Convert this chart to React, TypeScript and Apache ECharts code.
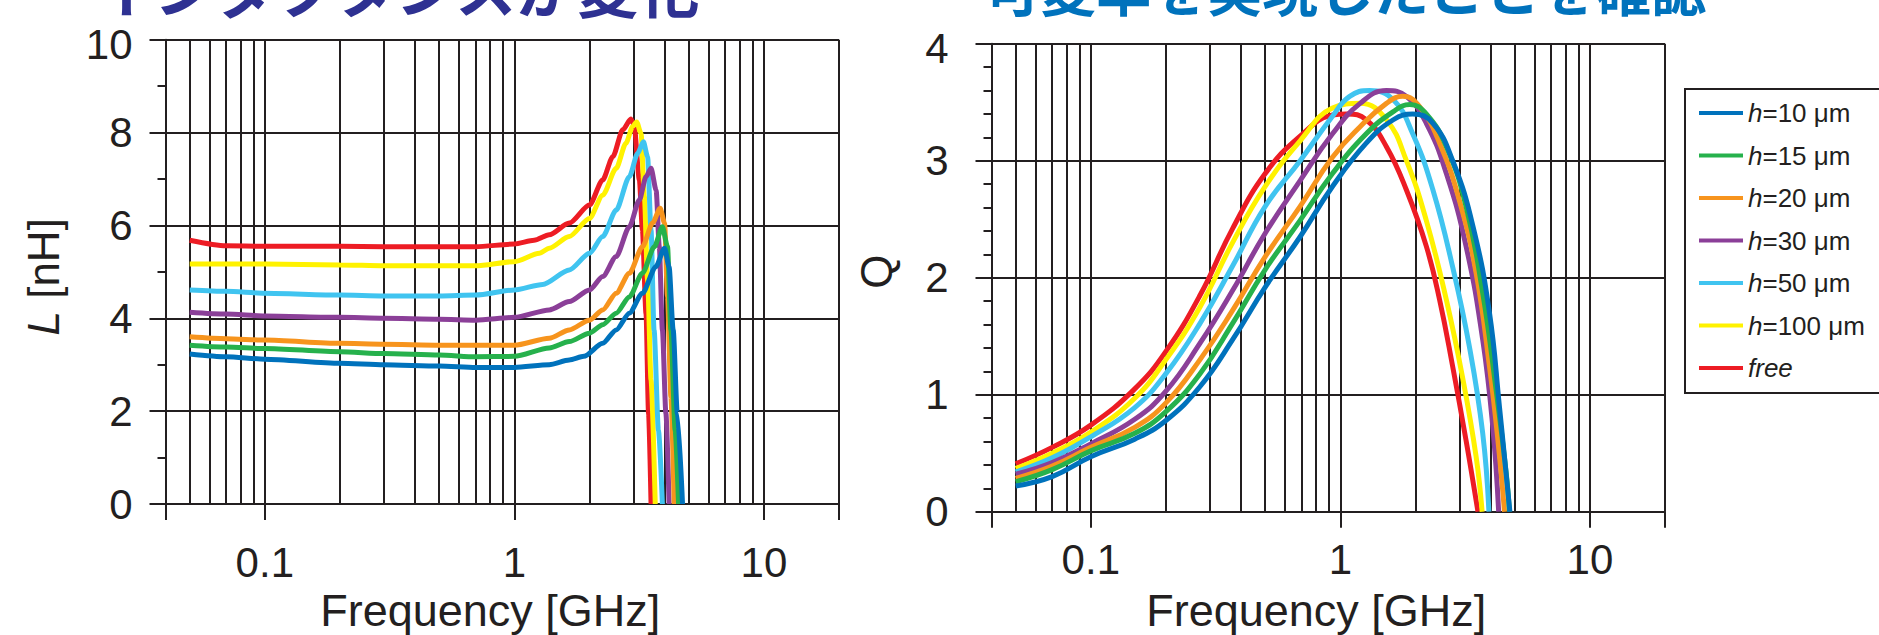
import React, { useEffect, useRef } from 'react';
import * as echarts from 'echarts';

// ---------- Inductance L [nH] vs frequency [GHz] ----------
const lFreeF = [0.05, 0.07, 0.1, 0.2, 0.3, 0.5, 0.7, 1.0, 1.2, 1.38, 1.66, 2.0, 2.26, 2.48, 2.72, 2.93, 3.02, 3.17, 3.26, 3.37, 3.45, 3.53];
const lFreeV = [5.68, 5.56, 5.55, 5.55, 5.54, 5.54, 5.54, 5.6, 5.68, 5.8, 6.05, 6.44, 6.98, 7.48, 8.06, 8.29, 8.16, 6.98, 5.9, 4.1, 1.95, 0];
const lH100F = [0.05, 0.07, 0.1, 0.2, 0.3, 0.5, 0.7, 1.0, 1.26, 1.38, 1.66, 2.0, 2.26, 2.56, 2.8, 2.98, 3.09, 3.22, 3.32, 3.42, 3.53, 3.67];
const lH100V = [5.17, 5.17, 5.17, 5.15, 5.13, 5.13, 5.13, 5.22, 5.4, 5.51, 5.76, 6.15, 6.65, 7.23, 7.77, 8.13, 8.23, 7.98, 6.62, 4.82, 2.67, 0];
const lH50F = [0.05, 0.07, 0.1, 0.2, 0.3, 0.5, 0.7, 1.0, 1.3, 1.66, 2.0, 2.26, 2.56, 2.89, 3.12, 3.29, 3.42, 3.53, 3.63, 3.78, 3.92];
const lH50V = [4.61, 4.58, 4.54, 4.5, 4.48, 4.48, 4.5, 4.61, 4.73, 5.04, 5.4, 5.76, 6.33, 7.05, 7.55, 7.8, 7.48, 5.9, 3.75, 1.59, 0];
const lH30F = [0.05, 0.07, 0.1, 0.2, 0.3, 0.5, 0.7, 1.0, 1.38, 1.66, 2.0, 2.26, 2.56, 2.89, 3.17, 3.37, 3.53, 3.7, 3.81, 3.92, 4.05, 4.17];
const lH30V = [4.13, 4.09, 4.05, 4.02, 4.0, 3.98, 3.96, 4.02, 4.18, 4.36, 4.61, 4.9, 5.33, 5.97, 6.55, 7.05, 7.23, 6.76, 5.54, 3.75, 1.95, 0];
const lH20F = [0.05, 0.07, 0.1, 0.2, 0.3, 0.5, 0.7, 1.0, 1.38, 1.66, 2.0, 2.26, 2.56, 2.89, 3.26, 3.58, 3.84, 4.0, 4.11, 4.24, 4.37];
const lH20V = [3.6, 3.56, 3.53, 3.46, 3.44, 3.42, 3.42, 3.42, 3.57, 3.75, 3.96, 4.18, 4.54, 4.97, 5.54, 6.05, 6.37, 6.05, 4.46, 2.31, 0];
const lH15F = [0.05, 0.07, 0.1, 0.2, 0.3, 0.5, 0.7, 1.0, 1.38, 1.66, 2.0, 2.26, 2.56, 2.89, 3.26, 3.64, 3.92, 4.11, 4.24, 4.41, 4.55];
const lH15V = [3.42, 3.38, 3.35, 3.28, 3.24, 3.21, 3.17, 3.18, 3.36, 3.5, 3.68, 3.86, 4.11, 4.46, 4.97, 5.54, 5.97, 5.54, 3.75, 1.59, 0];
const lH10F = [0.05, 0.07, 0.1, 0.2, 0.3, 0.5, 0.7, 1.0, 1.38, 1.66, 1.9, 2.26, 2.56, 2.89, 3.26, 3.69, 4.0, 4.17, 4.33, 4.5, 4.72];
const lH10V = [3.23, 3.17, 3.12, 3.03, 3.0, 2.97, 2.94, 2.94, 3.0, 3.1, 3.18, 3.46, 3.75, 4.11, 4.54, 5.11, 5.51, 5.11, 3.75, 1.95, 0];

// ---------- Quality factor Q vs frequency [GHz] ----------
const qFreeF = [0.05, 0.07, 0.1, 0.15, 0.2, 0.274, 0.37, 0.5, 0.69, 0.93, 1.06, 1.27, 1.53, 1.84, 2.21, 2.5, 2.82, 3.19, 3.56];
const qFreeV = [0.41, 0.55, 0.74, 1.05, 1.37, 1.85, 2.42, 2.89, 3.21, 3.39, 3.4, 3.35, 3.12, 2.75, 2.27, 1.81, 1.24, 0.61, 0];
const qH100F = [0.05, 0.07, 0.1, 0.15, 0.2, 0.274, 0.37, 0.5, 0.69, 0.93, 1.2, 1.53, 1.84, 2.21, 2.66, 3.1, 3.5, 3.7];
const qH100V = [0.37, 0.5, 0.68, 0.97, 1.3, 1.75, 2.3, 2.78, 3.17, 3.45, 3.49, 3.35, 3.0, 2.49, 1.81, 1.13, 0.47, 0];
const qH50F = [0.05, 0.07, 0.1, 0.15, 0.2, 0.274, 0.37, 0.5, 0.69, 0.93, 1.09, 1.31, 1.63, 1.95, 2.35, 2.82, 3.29, 3.72, 3.94];
const qH50V = [0.34, 0.46, 0.64, 0.89, 1.18, 1.61, 2.1, 2.61, 3.0, 3.38, 3.55, 3.6, 3.52, 3.23, 2.75, 2.09, 1.41, 0.67, 0];
const qH30F = [0.05, 0.07, 0.1, 0.15, 0.2, 0.274, 0.37, 0.5, 0.69, 0.93, 1.2, 1.53, 1.84, 2.21, 2.66, 3.19, 3.72, 4.08, 4.31];
const qH30V = [0.32, 0.42, 0.58, 0.79, 1.03, 1.44, 1.89, 2.38, 2.83, 3.23, 3.49, 3.6, 3.55, 3.32, 2.89, 2.27, 1.47, 0.73, 0];
const qH20F = [0.05, 0.07, 0.1, 0.15, 0.2, 0.274, 0.37, 0.5, 0.69, 0.93, 1.2, 1.53, 1.78, 2.08, 2.5, 3.0, 3.5, 3.96, 4.28, 4.55];
const qH20V = [0.285, 0.39, 0.55, 0.72, 0.93, 1.3, 1.72, 2.18, 2.61, 3.03, 3.29, 3.49, 3.55, 3.46, 3.15, 2.66, 2.04, 1.24, 0.61, 0];
const qH15F = [0.05, 0.07, 0.1, 0.15, 0.2, 0.274, 0.37, 0.5, 0.69, 0.93, 1.27, 1.63, 1.9, 2.21, 2.66, 3.19, 3.72, 4.21, 4.62, 4.76];
const qH15V = [0.256, 0.36, 0.52, 0.67, 0.855, 1.18, 1.61, 2.07, 2.49, 2.89, 3.23, 3.42, 3.48, 3.4, 3.12, 2.61, 1.87, 1.04, 0.33, 0];
const qH10F = [0.05, 0.07, 0.1, 0.15, 0.2, 0.274, 0.37, 0.5, 0.69, 0.93, 1.27, 1.63, 1.95, 2.35, 2.82, 3.4, 3.96, 4.34, 4.78];
const qH10V = [0.22, 0.3, 0.47, 0.62, 0.78, 1.07, 1.47, 1.92, 2.35, 2.78, 3.15, 3.35, 3.4, 3.32, 3.0, 2.44, 1.7, 0.9, 0];

// series names (legend order) and colours
const seriesNames = ['h=10 μm', 'h=15 μm', 'h=20 μm', 'h=30 μm', 'h=50 μm', 'h=100 μm', 'free'];
const seriesColors = ['#0072bc', '#26b14c', '#f7941d', '#8b3f98', '#40c4f0', '#fff200', '#ed1c24'];
const lData = [[lH10F, lH10V], [lH15F, lH15V], [lH20F, lH20V], [lH30F, lH30V], [lH50F, lH50V], [lH100F, lH100V], [lFreeF, lFreeV]];
const qData = [[qH10F, qH10V], [qH15F, qH15V], [qH20F, qH20V], [qH30F, qH30V], [qH50F, qH50V], [qH100F, qH100V], [qFreeF, qFreeV]];

// axis ticks / grid values
const xMin = 0.04;
const xMax = 20;
const xTickLabels = ['0.1', '1', '10'];
const minorGridFreqs = [0.05, 0.06, 0.07, 0.08, 0.09, 0.2, 0.3, 0.4, 0.5, 0.6, 0.7, 0.8, 0.9, 2, 3, 4, 5, 6, 7, 8, 9];

const titleLeft = 'インダクタンスが変化';
const titleRight = '可変率を実現したことを確認';

const INK = '#231f20';
const FONT = '"Liberation Sans", Arial, Helvetica, sans-serif';

function fmtX(v: number): string {
  const l = Math.log10(v);
  const r = Math.round(l);
  if (Math.abs(l - r) > 1e-6) return '';
  const idx = r + 1;
  return xTickLabels[idx] ?? '';
}

function makeX(gridIndex: number, labelMargin: number, nameGap: number) {
  return {
    type: 'log',
    logBase: 10,
    gridIndex,
    min: xMin,
    max: xMax,
    axisLine: { show: true, onZero: false, lineStyle: { color: INK, width: 2 } },
    axisTick: { show: true, inside: false, length: 16, lineStyle: { color: INK, width: 2 } },
    axisLabel: { show: true, interval: 0, margin: labelMargin, fontSize: 42, color: INK, fontFamily: FONT, formatter: fmtX },
    splitLine: { show: true, lineStyle: { color: INK, width: 2 } },
    minorTick: { show: false },
    minorSplitLine: { show: false },
    name: 'Frequency [GHz]',
    nameLocation: 'middle',
    nameGap,
    nameTextStyle: { fontSize: 45, color: INK, fontFamily: FONT, padding: [0, 24, 0, 0] },
  };
}

function makeY(
  gridIndex: number,
  max: number,
  interval: number,
  minorSplit: number,
  labelMargin: number,
  name: string,
  nameGap: number,
  namePadding: number[]
) {
  return {
    type: 'value',
    gridIndex,
    min: 0,
    max,
    interval,
    axisLine: { show: true, lineStyle: { color: INK, width: 2 } },
    axisTick: { show: true, inside: false, length: 16, lineStyle: { color: INK, width: 2 } },
    minorTick: { show: true, splitNumber: minorSplit, length: 8, lineStyle: { color: INK, width: 2 } },
    minorSplitLine: { show: false },
    splitLine: { show: true, lineStyle: { color: INK, width: 2 } },
    axisLabel: {
      margin: labelMargin,
      fontSize: 42,
      color: INK,
      fontFamily: FONT,
      formatter: (v: number) => (v === max ? '{t|' + v + '}' : String(v)),
      rich: { t: { fontSize: 42, color: INK, fontFamily: FONT, padding: [10, 0, 0, 0] } },
    },
    name,
    nameLocation: 'middle',
    nameRotate: 90,
    nameGap,
    nameTextStyle: {
      fontSize: 44,
      color: INK,
      fontFamily: FONT,
      padding: namePadding,
      rich: { i: { fontSize: 44, color: INK, fontFamily: FONT, fontStyle: 'italic' } },
    },
  };
}

function buildSeries(data: number[][][], axisIndex: number, smooth: number, monotone: boolean) {
  const out: any[] = [];
  // draw red (free) first, blue (h=10) last => blue on top
  for (let k = data.length - 1; k >= 0; k--) {
    const [f, v] = data[k];
    const s: any = {
      type: 'line',
      name: seriesNames[k],
      xAxisIndex: axisIndex,
      yAxisIndex: axisIndex,
      data: f.map((x, i) => [x, v[i]]),
      showSymbol: false,
      symbol: 'none',
      smooth,
      silent: true,
      z: 2,
      color: seriesColors[k],
      itemStyle: { color: seriesColors[k] },
      lineStyle: { color: seriesColors[k], width: 5 },
      emphasis: { disabled: true },
    };
    if (monotone) s.smoothMonotone = 'x';
    out.push(s);
  }
  return out;
}

function gridLineSeries(axisIndex: number) {
  return {
    type: 'line',
    name: '_grid' + axisIndex,
    xAxisIndex: axisIndex,
    yAxisIndex: axisIndex,
    data: [],
    silent: true,
    z: 1,
    markLine: {
      silent: true,
      z: 1,
      animation: false,
      symbol: ['none', 'none'],
      label: { show: false },
      emphasis: { disabled: true },
      lineStyle: { color: INK, width: 2, type: 'solid' },
      data: minorGridFreqs.map((v) => ({ xAxis: v })),
    },
  };
}

export default function App() {
  const ref = useRef<HTMLDivElement>(null);
  useEffect(() => {
    if (!ref.current) return;
    const chart = echarts.init(ref.current, null, { renderer: 'svg' });
    const option: any = {
      animation: false,
      backgroundColor: '#ffffff',
      textStyle: { fontFamily: FONT },
      grid: [
        { left: 165.5, top: 39.7, width: 673.5, height: 464.3, outerBoundsMode: 'none', containLabel: false },
        { left: 991.5, top: 43.7, width: 673.5, height: 468, outerBoundsMode: 'none', containLabel: false },
      ],
      xAxis: [makeX(0, 37, 80), makeX(1, 27, 76)],
      yAxis: [
        makeY(0, 10, 2, 2, 33, '{i|L} [nH]', 100, [0, 10, 0, 0]),
        makeY(1, 4, 1, 5, 43, 'Q', 93, [0, 0, 0, 12]),
      ],
      legend: {
        data: seriesNames,
        orient: 'vertical',
        left: 1685,
        top: 89,
        icon: 'rect',
        itemWidth: 44,
        itemHeight: 4,
        itemGap: 16.5,
        padding: [11, 60, 12, 14],
        borderColor: INK,
        borderWidth: 2,
        selectedMode: false,
        textStyle: {
          fontSize: 26,
          color: INK,
          fontFamily: FONT,
          rich: { i: { fontSize: 26, color: INK, fontFamily: FONT, fontStyle: 'italic' } },
        },
        formatter: (name: string) => (name === 'free' ? '{i|free}' : name.replace(/^h/, '{i|h}')),
      },
      graphic: [
        {
          type: 'text',
          x: 93,
          y: -14,
          z: 10,
          style: {
            text: titleLeft,
            fill: '#2e3192',
            fontSize: 61,
            fontWeight: 'bold',
            fontFamily: '"Noto Sans CJK JP", sans-serif',
            align: 'left',
            verticalAlign: 'middle',
          },
        },
        {
          type: 'text',
          x: 985,
          y: -13,
          z: 10,
          style: {
            text: titleRight,
            fill: '#0072bc',
            fontSize: 55.5,
            fontWeight: 'bold',
            fontFamily: '"Noto Sans CJK JP", sans-serif',
            align: 'left',
            verticalAlign: 'middle',
          },
        },
      ],
      series: [
        gridLineSeries(0),
        gridLineSeries(1),
        ...buildSeries(lData, 0, 0.25, true),
        ...buildSeries(qData, 1, 0.45, false),
      ],
    };
    chart.setOption(option);
    return () => chart.dispose();
  }, []);
  return (
    <div
      ref={ref}
      style={{ position: 'absolute', left: 0, top: 0, width: 1879, height: 635, background: '#ffffff' }}
    />
  );
}
